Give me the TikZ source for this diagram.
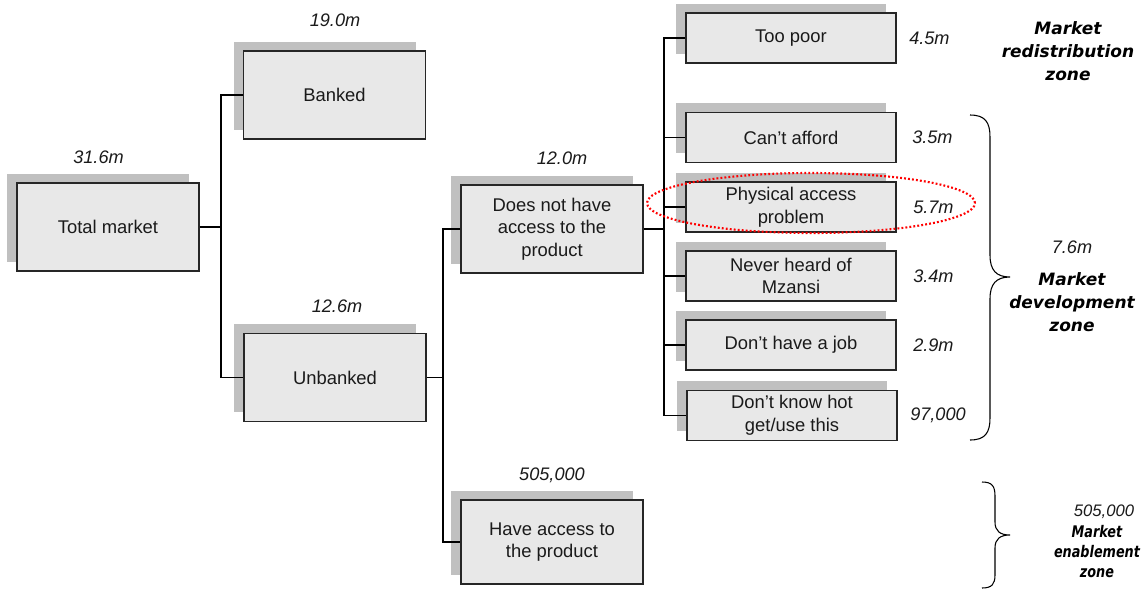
\documentclass[tikz,border=0pt]{standalone}
\usepackage{fontspec}
\setmainfont{Liberation Sans}
\newfontfamily\zonefont{DejaVu Sans}
\newfontfamily\zonenarrow[FakeStretch=0.8]{DejaVu Sans Bold Oblique}
\usetikzlibrary{shadows,shapes.geometric}
\definecolor{boxfill}{HTML}{E8E8E8}
\definecolor{shadowgray}{HTML}{C0C0C0}
\definecolor{txt}{HTML}{1A1A1A}
\begin{document}
\begin{tikzpicture}[x=0.75pt,y=-0.75pt,
  box/.style={draw=black!85, line width=0.8pt, fill=boxfill, align=center,
    font=\fontsize{13.8}{17}\selectfont, text=txt, inner sep=0pt,
    general shadow={fill=shadowgray, shadow xshift=-7.5pt, shadow yshift=7.1pt}},
  bigbox/.style={box, minimum width=136.5pt, minimum height=66pt},
  smallbox/.style={box, minimum width=157.5pt, minimum height=37.5pt},
  val/.style={font=\fontsize{13.6}{16}\selectfont\itshape, text=txt, inner sep=0pt},
  rval/.style={val, anchor=west},
  zone/.style={font=\zonefont\fontsize{12.75}{17}\selectfont\bfseries\itshape, align=center, text=black, inner sep=0pt},
  conn/.style={draw=black, line width=0.8pt},
  brace/.style={draw=black, line width=0.8pt},
  hilite/.style={draw=red, line width=1.6pt, dash pattern=on 1.4pt off 1.6pt, ellipse, inner sep=0pt, minimum width=246pt, minimum height=45pt}
]
\useasboundingbox (0,0) rectangle (1143,594);
\fill[white] (0,0) rectangle (1143,594);

% boxes
\node[bigbox] (tm) at (108,227) {Total market};
\node[bigbox] (banked) at (334.5,95) {Banked};
\node[bigbox] (unbanked) at (335,377.5) {Unbanked};
\node[bigbox] (dnh) at (552,229) {Does not have\\access to the\\product};
\node[bigbox, minimum height=63pt] (have) at (552,542) {Have access to\\the product};

\node[smallbox] (poor) at (791,38) {Too poor};
\node[smallbox] (afford) at (791,137.5) {Can’t afford};
\node[smallbox] (phys) at (791,207) {Physical access\\problem};
\node[smallbox] (never) at (791,276) {Never heard of\\Mzansi};
\node[smallbox] (job) at (791,345) {Don’t have a job};
\node[smallbox] (know) at (792,415.5) {Don’t know hot\\get/use this};

% junction coordinates
\coordinate (b1) at (221,0);
\coordinate (b2) at (443,0);
\coordinate (b3) at (664,0);

% connectors
\draw[conn] (tm.east) -- (tm.east -| b1);
\draw[conn] (banked.west) -- (banked.west -| b1) -- (unbanked.west -| b1) -- (unbanked.west);
\draw[conn] (unbanked.east) -- (unbanked.east -| b2);
\draw[conn] (dnh.west) -- (dnh.west -| b2) -- (have.west -| b2) -- (have.west);
\draw[conn, line width=1.6pt] (dnh.east) -- (dnh.east -| b3);
\draw[conn] (poor.west) -- (poor.west -| b3) -- (know.west -| b3) -- (know.west);
\draw[conn] (afford.west -| b3) -- (afford.west);
\draw[conn] (phys.west -| b3) -- (phys.west);
\draw[conn] (never.west -| b3) -- (never.west);
\draw[conn] (job.west -| b3) -- (job.west);

% value labels
\node[val] (vtm) at (98.5,157) {31.6m};
\node[val] (vbanked) at (335,20) {19.0m};
\node[val] (vunbanked) at (337,306) {12.6m};
\node[val] (vdnh) at (562,158) {12.0m};
\node[val] (vhave) at (552,475) {505,000};
\node[rval] (vpoor) at (909,38) {4.5m};
\node[rval] (vafford) at (912,137.5) {3.5m};
\node[rval] (vphys) at (913,207) {5.7m};
\node[rval] (vnever) at (913,276) {3.4m};
\node[rval] (vjob) at (913,345) {2.9m};
\node[rval] (vknow) at (910,415) {97,000};

% highlight
\node[hilite] (hl) at (811,203) {};

% braces
\draw[brace] (970,115) .. controls (985,115) and (990,122) .. (990,137) -- (990,255)
  .. controls (990,270) and (996,277) .. (1010,277)
  .. controls (996,277) and (990,284) .. (990,299) -- (990,418)
  .. controls (990,433) and (985,440) .. (970,440);
\draw[brace] (982,482) .. controls (992,482) and (995,486) .. (995,496) -- (995,522)
  .. controls (995,531) and (1000,535) .. (1010,535)
  .. controls (1000,535) and (995,539) .. (995,548) -- (995,575)
  .. controls (995,584) and (992,588) .. (982,588);

% zone labels
\node[zone] (zredis) at (1068,51) {Market\\redistribution\\zone};
\node[val] (vdev) at (1072,247) {7.6m};
\node[zone] (zdev) at (1072,302) {Market\\development\\zone};
\node[val, font=\fontsize{12.5}{14}\selectfont\itshape] (venab) at (1104,512) {505,000};
\node[zone, font=\zonenarrow\fontsize{12}{15}\selectfont] (zenab) at (1097,552) {Market\\enablement\\zone};
\end{tikzpicture}
\end{document}
